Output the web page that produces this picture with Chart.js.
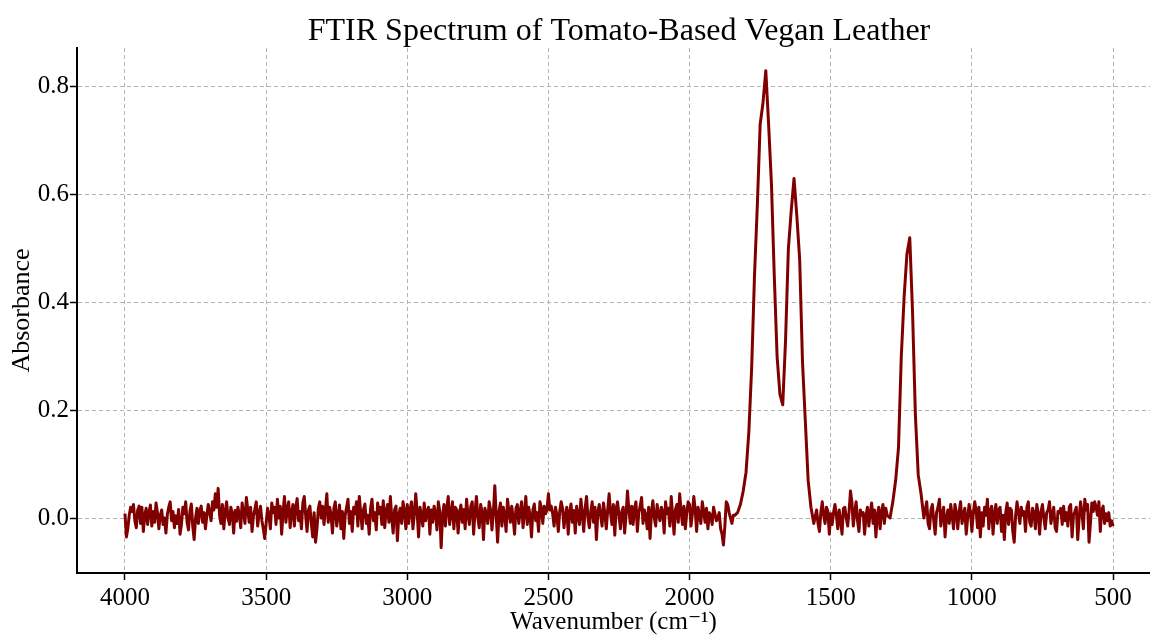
<!DOCTYPE html>
<html>
<head>
<meta charset="utf-8">
<script src="https://cdn.jsdelivr.net/npm/chart.js@4.4.0/dist/chart.umd.min.js"></script>
<style>
html,body{margin:0;padding:0;background:#fff;}
#wrap{width:1150px;height:637px;position:relative;}
</style>
</head>
<body>
<div id="wrap"><canvas id="c" width="1150" height="637"></canvas></div>
<script>
// Absorbance, segment by segment (decreasing wavenumber)
// Segment starts (cm^-1) and sampling steps (cm^-1)
const segmentStarts = [4000, 1840, 1550, 1290, 1160];
const segmentSteps = [5, 10, 5, 10, 5];

// 4000 .. 1845 (baseline noise)
const absHighBaseline = [
  0.008,-0.035,-0.02,0.005,0.02,0.012,0.025,-0.005,-0.018,0.015,0.022,-0.01,0.02,-0.025,0.005,0.018,-0.012,0.01,0.024,-0.015,
  0.012,-0.008,0.028,0.01,-0.02,0.005,0.015,-0.012,0.0,-0.028,0.006,0.02,0.03,-0.005,0.012,-0.018,0.004,-0.01,0.016,-0.03,
  -0.012,0.02,0.008,0.03,-0.008,-0.022,0.012,0.026,-0.015,-0.04,0.0,0.018,-0.01,0.014,0.022,-0.008,0.01,-0.02,0.005,0.025,
  0.01,-0.005,0.03,0.015,0.045,0.02,0.055,0.005,-0.01,0.025,-0.02,0.012,0.03,0.0,-0.012,0.02,0.008,-0.028,0.014,-0.006,
  0.02,0.006,-0.018,0.028,0.01,-0.01,0.038,0.015,-0.008,0.02,-0.025,0.004,0.016,0.03,-0.015,0.008,0.022,-0.005,-0.02,-0.038,
  -0.01,0.018,0.005,-0.02,0.028,0.01,0.02,-0.012,0.035,0.0,0.022,-0.03,0.012,0.04,-0.008,0.018,0.03,-0.018,0.01,0.025,
  -0.015,0.02,0.036,-0.005,0.012,-0.02,0.028,0.04,0.005,-0.025,0.015,0.022,-0.01,-0.035,0.01,-0.045,-0.02,0.018,0.03,0.0,
  0.022,-0.012,0.015,0.045,-0.008,0.02,0.006,-0.028,0.018,0.03,-0.015,0.004,0.024,-0.02,0.012,-0.038,0.005,0.02,0.035,-0.01,
  0.012,-0.025,0.02,0.008,0.03,-0.015,0.04,0.01,-0.02,0.016,0.026,-0.01,0.005,-0.03,0.018,0.035,-0.005,0.01,-0.022,0.028,
  0.008,0.02,-0.012,0.032,-0.018,0.012,0.025,-0.008,0.04,0.0,-0.028,0.015,0.022,-0.042,0.006,0.018,-0.01,0.03,0.012,-0.02,
  0.025,-0.01,0.016,0.03,-0.02,0.008,0.045,0.01,-0.035,0.02,0.005,-0.015,0.028,-0.005,0.012,0.02,-0.03,0.015,-0.008,0.022,
  0.01,-0.022,0.03,0.012,-0.055,0.005,0.025,-0.015,0.018,0.04,-0.012,0.008,0.03,-0.02,0.02,0.015,-0.028,0.01,0.024,-0.008,
  0.016,-0.02,0.035,0.005,-0.012,0.022,0.03,-0.03,0.012,0.04,0.0,-0.018,0.025,0.01,-0.04,0.018,0.008,-0.01,0.03,0.015,
  -0.022,0.01,0.06,0.005,-0.045,0.012,0.028,-0.015,0.02,0.006,-0.025,0.035,0.012,-0.008,0.022,0.0,-0.03,0.018,0.025,-0.01,
  0.012,0.03,-0.018,0.008,0.04,-0.012,0.02,0.005,-0.035,0.015,0.026,-0.005,0.01,-0.025,0.03,0.018,-0.01,0.022,0.008,0.016,
  0.045,0.015,0.022,0.008,-0.015,0.02,0.005,-0.025,0.012,0.03,0.018,-0.018,0.006,0.02,-0.03,0.01,0.026,-0.008,0.014,-0.028,
  0.022,0.005,-0.012,0.035,0.008,-0.025,0.018,0.04,0.0,-0.018,0.012,0.03,-0.008,0.02,-0.04,0.01,0.025,0.005,-0.015,0.028,
  0.008,-0.02,0.015,0.045,0.01,-0.012,0.025,-0.032,0.018,0.03,0.004,-0.02,0.012,0.02,-0.028,0.006,0.05,0.015,-0.01,0.022,
  -0.012,0.018,0.03,-0.025,0.01,0.022,0.038,-0.01,0.015,0.005,-0.02,0.02,-0.038,0.012,0.032,0.0,-0.015,0.025,0.008,-0.005,
  0.02,0.012,-0.028,0.03,0.008,0.018,-0.015,0.04,0.005,-0.03,0.016,0.025,-0.008,0.045,0.012,-0.012,0.022,-0.02,0.01,0.03,
  0.025,-0.015,0.008,0.04,0.015,-0.025,0.02,0.005,-0.01,0.03,0.012,-0.008,0.018,-0.02,0.01,0.005,-0.012,0.02,0.008,-0.005,
  0.0,0.01,-0.02,-0.03,-0.05,-0.015,0.03,0.025,0.01,0.0,-0.01,0.005
];
// 1840 .. 1560 (double carbonyl / amide band)
const absCarbonylBand = [
  0.005, 0.01, 0.025, 0.05, 0.085, 0.16, 0.28, 0.45, 0.58, 0.73,
  0.77, 0.83, 0.73, 0.62, 0.45, 0.30, 0.23, 0.21, 0.33, 0.50,
  0.57, 0.63, 0.56, 0.48, 0.29, 0.18, 0.07, 0.02, -0.01
];
// 1550 .. 1300
const absMidBaseline = [
  0.015,-0.01,-0.025,0.01,0.03,0.005,-0.01,0.02,0.012,-0.03,0.008,-0.012,0.01,0.025,0.005,-0.02,0.015,-0.005,-0.03,0.018,
  0.02,0.0,-0.015,0.012,0.05,0.03,-0.015,0.01,0.03,-0.005,-0.025,0.015,0.005,0.01,-0.03,0.004,0.02,-0.015,0.01,0.028,
  -0.01,0.015,-0.035,0.005,0.02,-0.02,0.012,0.025,-0.01,0.018,0.005
];
// 1290 .. 1170 (C-O band)
const absCOBand = [
  0.0, 0.03, 0.07, 0.13, 0.30, 0.41, 0.49, 0.52, 0.38, 0.19,
  0.08, 0.045, 0.0
];
// 1160 .. 500
const absLowBaseline = [
  0.03,-0.01,-0.02,0.015,0.025,-0.005,-0.03,0.01,0.02,0.035,-0.015,0.008,0.02,-0.035,0.0,0.015,-0.01,0.025,0.005,-0.02,
  0.025,0.01,-0.02,0.012,0.03,-0.01,0.005,0.018,-0.03,0.0,0.025,0.012,-0.025,0.008,0.03,0.015,-0.018,0.02,-0.035,0.01,
  -0.015,0.02,0.005,0.035,-0.02,0.012,0.022,-0.03,0.008,0.025,-0.01,0.015,0.02,-0.025,0.005,-0.04,0.01,0.028,-0.012,0.018,
  0.015,-0.025,-0.045,0.005,0.03,0.01,-0.01,0.02,0.005,0.012,-0.025,0.02,0.03,-0.008,-0.015,0.018,0.01,-0.02,0.025,0.008,
  -0.03,0.012,0.025,0.0,-0.02,0.01,0.015,0.03,-0.01,0.005,0.02,-0.018,-0.025,0.012,0.01,0.018,-0.012,0.022,-0.005,0.01,
  -0.015,0.02,0.025,-0.035,0.005,0.012,0.02,-0.04,0.0,0.03,0.01,-0.02,0.035,0.015,0.025,-0.045,-0.01,0.028,0.012,0.03,
  0.02,0.005,0.03,-0.025,0.015,0.022,-0.01,0.008,-0.005,0.01,-0.015,-0.005,-0.015
];

const xTickValues = [4000, 3500, 3000, 2500, 2000, 1500, 1000, 500];
const yTickValues = [0.0, 0.2, 0.4, 0.6, 0.8];

const segments = [absHighBaseline, absCarbonylBand, absMidBaseline, absCOBand, absLowBaseline];
const points = [];
segments.forEach((vals, s) => {
  vals.forEach((a, i) => points.push({ x: segmentStarts[s] - i * segmentSteps[s], y: a }));
});

const SERIF = '"Liberation Serif", "DejaVu Serif", serif';
const TITLE = 'FTIR Spectrum of Tomato-Based Vegan Leather';

Chart.defaults.font.family = SERIF;
Chart.defaults.color = '#000';

const titlePlugin = {
  id: 'axesTitle',
  afterDraw(chart) {
    const ctx = chart.ctx;
    const xs = chart.scales.x;
    // centred over the full axes span (which extends past the right edge)
    const cx = xs.getPixelForValue(2250);
    ctx.save();
    ctx.font = '32px ' + SERIF;
    ctx.fillStyle = '#000';
    ctx.textAlign = 'center';
    ctx.textBaseline = 'alphabetic';
    ctx.fillText(TITLE, cx, 40);
    ctx.restore();
  }
};

new Chart(document.getElementById('c'), {
  type: 'line',
  data: {
    datasets: [{
      data: points,
      borderColor: '#800000',
      borderWidth: 3,
      pointRadius: 0,
      tension: 0,
      fill: false,
      borderJoinStyle: 'round'
    }]
  },
  options: {
    responsive: false,
    animation: false,
    layout: { padding: { left: 0, right: 0, top: 48, bottom: 0 } },
    plugins: {
      legend: { display: false },
      tooltip: { enabled: false },
      title: { display: false }
    },
    scales: {
      x: {
        type: 'linear',
        reverse: true,
        min: 369,
        max: 4170,
        afterBuildTicks: (axis) => { axis.ticks = xTickValues.map(v => ({ value: v })); },
        afterFit: (axis) => { axis.height = 64; },
        ticks: {
          font: { family: SERIF, size: 25 },
          color: '#000',
          padding: 3,
          maxRotation: 0,
          autoSkip: false,
          callback: (v) => String(v)
        },
        grid: {
          color: '#b4b4b4',
          lineWidth: 1,
          drawTicks: true,
          tickLength: 7,
          tickColor: '#000',
          tickWidth: 1.5,
          tickBorderDash: []
        },
        border: { display: true, color: '#000', width: 2, dash: [4, 3] },
        title: {
          display: true,
          text: 'Wavenumber (cm⁻¹)',
          font: { family: SERIF, size: 25 },
          color: '#000',
          padding: { top: 0, bottom: 0 }
        }
      },
      y: {
        type: 'linear',
        min: -0.102,
        max: 0.872,
        afterBuildTicks: (axis) => { axis.ticks = yTickValues.map(v => ({ value: v })); },
        afterFit: (axis) => { axis.width = 77; },
        ticks: {
          font: { family: SERIF, size: 25 },
          color: '#000',
          padding: 1,
          callback: (v) => Number(v).toFixed(1)
        },
        grid: {
          color: '#b4b4b4',
          lineWidth: 1,
          drawTicks: true,
          tickLength: 7,
          tickColor: '#000',
          tickWidth: 1.5,
          tickBorderDash: []
        },
        border: { display: true, color: '#000', width: 2, dash: [4, 3] },
        title: {
          display: true,
          text: 'Absorbance',
          font: { family: SERIF, size: 26 },
          color: '#000',
          padding: { top: 7, bottom: 0 }
        }
      }
    }
  },
  plugins: [titlePlugin]
});
</script>
</body>
</html>
